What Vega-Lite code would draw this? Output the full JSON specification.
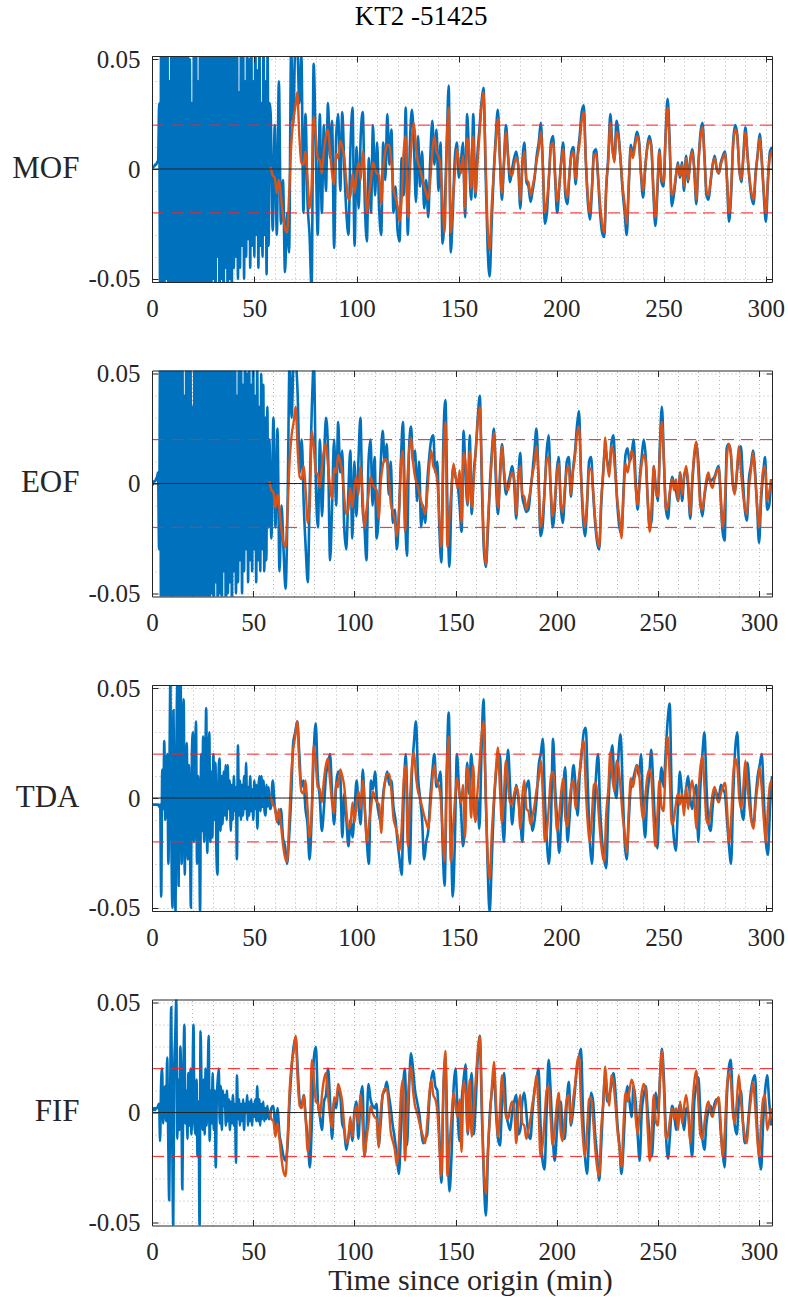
{
"$schema":"https://vega.github.io/schema/vega-lite/v6.json",
"padding":{"left":11,"top":3,"right":5,"bottom":5},
"bounds":"flush",
"spacing":88.5,
"title":{"text":"KT2 -51425","font":"Liberation Serif","fontSize":27,"fontWeight":"normal","color":"#000000","anchor":"middle","dx":23,"offset":16},
"config":{
"font":"Liberation Serif",
"view":{"stroke":null},
"axis":{"labelFont":"Liberation Serif","labelFontSize":25,"labelColor":"#262626","titleFont":"Liberation Serif","titleFontSize":31,"titleFontWeight":"normal","titleColor":"#262626","domainColor":"#262626","tickColor":"#262626","domainWidth":1,"tickWidth":1,"gridColor":"#b4b4b4","gridDash":[1,3],"gridWidth":1,"labelFlush":false,"labelOverlap":false}
},
"datasets":{"w":[
{"t":0,"a":0,"c":-0.001,"e":-0.003,"g":0.001},
{"t":0.5,"a":0.001,"c":0,"e":-0.003,"g":0.001},
{"t":1,"a":0.001,"c":0.001,"e":-0.003,"g":0.002},
{"t":1.5,"a":0.002,"c":0.001,"e":-0.003,"g":0.001},
{"t":2,"a":0.002,"c":0.002,"e":-0.003,"g":0.002},
{"t":2.5,"a":0.003,"c":0.003,"e":-0.003,"g":0.002},
{"t":3,"a":0.004,"c":0.005,"e":-0.003,"g":0.003},
{"t":3.5,"a":0.03,"c":-0.03,"e":-0.004,"g":0.004},
{"t":4,"a":-0.06,"c":0.06,"e":-0.003,"g":-0.013},
{"t":4.5,"a":0.07,"c":-0.07,"e":-0.045,"g":0.013},
{"t":5,"a":-0.07,"c":0.08,"e":0.013,"g":0.02},
{"t":5.5,"a":0.06,"c":-0.06,"e":-0.005,"g":-0.005},
{"t":6,"a":-0.08,"c":0.07,"e":0.026,"g":0.008},
{"t":6.5,"a":0.07,"c":-0.08,"e":-0.01,"g":0.012},
{"t":7,"a":-0.05,"c":0.06,"e":0.015,"g":-0.004},
{"t":7.5,"a":0.08,"c":-0.07,"e":0.02,"g":0.025},
{"t":8,"a":-0.07,"c":0.08,"e":-0.03,"g":-0.01},
{"t":8.5,"a":0.04,"c":-0.06,"e":0.01,"g":-0.04},
{"t":9,"a":-0.08,"c":0.07,"e":0.055,"g":0.01},
{"t":9.5,"a":0.07,"c":-0.08,"e":-0.02,"g":0.048},
{"t":10,"a":-0.06,"c":0.06,"e":-0.05,"g":-0.01},
{"t":10.5,"a":0.08,"c":-0.07,"e":0.04,"g":-0.052},
{"t":11,"a":-0.07,"c":0.08,"e":-0.01,"g":0.02},
{"t":11.5,"a":0.06,"c":-0.06,"e":-0.052,"g":0.035},
{"t":12,"a":-0.08,"c":0.07,"e":0.03,"g":0.052},
{"t":12.5,"a":0.07,"c":-0.08,"e":0.055,"g":-0.012},
{"t":13,"a":-0.07,"c":0.06,"e":-0.04,"g":0.015},
{"t":13.5,"a":0.08,"c":-0.07,"e":0.02,"g":-0.008},
{"t":14,"a":-0.06,"c":0.08,"e":0.055,"g":0.03},
{"t":14.5,"a":0.07,"c":-0.06,"e":-0.03,"g":0.01},
{"t":15,"a":-0.08,"c":0.07,"e":0.01,"g":-0.035},
{"t":15.5,"a":0.06,"c":-0.08,"e":0.045,"g":0.015},
{"t":16,"a":-0.07,"c":0.04,"e":-0.035,"g":0.04},
{"t":16.5,"a":0.08,"c":-0.07,"e":0.01,"g":-0.005},
{"t":17,"a":-0.06,"c":0.08,"e":0.025,"g":0.01},
{"t":17.5,"a":0.07,"c":-0.06,"e":-0.028,"g":-0.012},
{"t":18,"a":-0.08,"c":0.07,"e":0.015,"g":0.018},
{"t":18.5,"a":0.05,"c":-0.08,"e":-0.01,"g":-0.006},
{"t":19,"a":-0.07,"c":0.06,"e":-0.05,"g":0.02},
{"t":19.5,"a":0.03,"c":-0.07,"e":0.02,"g":-0.01},
{"t":20,"a":-0.08,"c":0.035,"e":0.03,"g":0.012},
{"t":20.5,"a":0.07,"c":-0.08,"e":-0.02,"g":0.04},
{"t":21,"a":-0.06,"c":0.07,"e":0.012,"g":-0.005},
{"t":21.5,"a":0.08,"c":-0.06,"e":0.035,"g":-0.01},
{"t":22,"a":-0.07,"c":0.08,"e":-0.03,"g":0.015},
{"t":22.5,"a":0.04,"c":-0.07,"e":0.01,"g":-0.02},
{"t":23,"a":-0.08,"c":0.06,"e":-0.01,"g":0.005},
{"t":23.5,"a":0.07,"c":-0.08,"e":-0.052,"g":-0.052},
{"t":24,"a":-0.06,"c":0.07,"e":0.02,"g":0.037},
{"t":24.5,"a":0.06,"c":-0.06,"e":-0.015,"g":0.01},
{"t":25,"a":-0.07,"c":0.08,"e":0.028,"g":-0.008},
{"t":25.5,"a":0.08,"c":-0.07,"e":-0.02,"g":0.015},
{"t":26,"a":-0.06,"c":0.06,"e":0.01,"g":-0.01},
{"t":26.5,"a":0.07,"c":-0.08,"e":0.041,"g":0.02},
{"t":27,"a":-0.08,"c":0.07,"e":-0.025,"g":-0.006},
{"t":27.5,"a":0.06,"c":-0.06,"e":0.005,"g":0.012},
{"t":28,"a":-0.07,"c":0.08,"e":0.03,"g":0.035},
{"t":28.5,"a":0.08,"c":-0.07,"e":-0.02,"g":-0.013},
{"t":29,"a":-0.06,"c":0.06,"e":0.012,"g":0.01},
{"t":29.5,"a":0.07,"c":-0.05,"e":-0.018,"g":-0.005},
{"t":30,"a":-0.05,"c":0.07,"e":0.02,"g":0.018},
{"t":30.5,"a":0.08,"c":-0.08,"e":-0.01,"g":-0.008},
{"t":31,"a":-0.07,"c":0.06,"e":0.016,"g":0.01},
{"t":31.5,"a":0.06,"c":-0.045,"e":-0.025,"g":-0.025},
{"t":32,"a":-0.04,"c":0.08,"e":-0.035,"g":0.005},
{"t":32.5,"a":0.07,"c":-0.07,"e":0.01,"g":0.015},
{"t":33,"a":-0.08,"c":0.06,"e":0.018,"g":0.02},
{"t":33.5,"a":0.06,"c":-0.05,"e":-0.015,"g":-0.005},
{"t":34,"a":-0.05,"c":0.07,"e":0.01,"g":0.012},
{"t":34.5,"a":0.07,"c":-0.06,"e":-0.012,"g":-0.008},
{"t":35,"a":-0.07,"c":0.08,"e":0.012,"g":0.01},
{"t":35.5,"a":0.08,"c":-0.04,"e":-0.008,"g":0.003},
{"t":36,"a":-0.045,"c":0.06,"e":0.015,"g":0.008},
{"t":36.5,"a":0.06,"c":-0.07,"e":-0.01,"g":-0.006},
{"t":37,"a":-0.07,"c":0.07,"e":0.015,"g":0.01},
{"t":37.5,"a":0.07,"c":-0.05,"e":-0.005,"g":-0.004},
{"t":38,"a":-0.05,"c":0.06,"e":0.008,"g":0.006},
{"t":38.5,"a":0.06,"c":-0.045,"e":-0.015,"g":-0.008},
{"t":39,"a":-0.06,"c":0.08,"e":0.006,"g":0.005},
{"t":39.5,"a":0.08,"c":-0.06,"e":-0.01,"g":-0.005},
{"t":40,"a":-0.045,"c":0.06,"e":0.01,"g":0.008},
{"t":40.5,"a":0.06,"c":-0.04,"e":-0.006,"g":-0.006},
{"t":41,"a":-0.04,"c":0.07,"e":0.005,"g":0.004},
{"t":41.5,"a":0.07,"c":-0.05,"e":-0.028,"g":-0.023},
{"t":42,"a":-0.05,"c":0.04,"e":0.024,"g":0.017},
{"t":42.5,"a":0.035,"c":-0.045,"e":-0.008,"g":-0.003},
{"t":43,"a":-0.045,"c":0.07,"e":0.008,"g":0.006},
{"t":43.5,"a":0.06,"c":-0.035,"e":-0.01,"g":-0.006},
{"t":44,"a":-0.035,"c":0.06,"e":0.006,"g":0.004},
{"t":44.5,"a":0.07,"c":-0.05,"e":-0.008,"g":-0.004},
{"t":45,"a":-0.05,"c":0.045,"e":0.01,"g":0.006},
{"t":45.5,"a":0.04,"c":-0.04,"e":-0.005,"g":-0.008},
{"t":46,"a":-0.04,"c":0.07,"e":0.016,"g":0.004},
{"t":46.5,"a":0.06,"c":-0.03,"e":-0.01,"g":0},
{"t":47,"a":-0.032,"c":0.05,"e":0.005,"g":0.008},
{"t":47.5,"a":0.05,"c":-0.045,"e":-0.008,"g":-0.006},
{"t":48,"a":-0.045,"c":0.065,"e":0.01,"g":0.005},
{"t":48.5,"a":0.07,"c":-0.035,"e":-0.006,"g":-0.004},
{"t":49,"a":-0.035,"c":0.045,"e":0.004,"g":0.006},
{"t":49.5,"a":0.04,"c":-0.04,"e":-0.01,"g":-0.006},
{"t":50,"a":-0.04,"c":0.06,"e":0.008,"g":0.004},
{"t":50.5,"a":0.06,"c":-0.03,"e":-0.005,"g":-0.002},
{"t":51,"a":-0.03,"c":0.04,"e":0.006,"g":0.006},
{"t":51.5,"a":0.045,"c":-0.045,"e":-0.014,"g":-0.004},
{"t":52,"a":-0.045,"c":0.055,"e":0.004,"g":0.012},
{"t":52.5,"a":0.06,"c":-0.035,"e":0.01,"g":-0.004},
{"t":53,"a":-0.035,"c":0.035,"e":-0.006,"g":0.006},
{"t":53.5,"a":0.03,"c":-0.04,"e":0.01,"g":-0.006},
{"t":54,"a":-0.04,"c":0.05,"e":-0.004,"g":0.004},
{"t":54.5,"a":0.06,"c":-0.03,"e":0.008,"g":-0.003},
{"t":55,"a":-0.03,"c":0.045,"e":-0.006,"g":0.005},
{"t":55.5,"a":0.04,"c":-0.04,"e":-0.008,"g":-0.004},
{"t":56,"a":-0.048,"c":0.03,"e":0.006,"g":0.002},
{"t":56.5,"a":0.055,"c":-0.035,"e":-0.004,"g":-0.003},
{"t":57,"a":-0.035,"c":0.035,"e":0.005,"g":0.003},
{"t":57.5,"a":0.03,"c":-0.02,"e":-0.005,"g":-0.002},
{"t":58,"a":0.025,"o":0.001,"c":0.02,"e":-0.005,"g":-0.003},
{"t":59,"a":-0.028,"o":-0.003,"c":-0.025,"e":0.008,"g":0.002},
{"t":60,"a":0.02,"o":-0.004,"c":0.03,"e":-0.004,"g":0.003},
{"t":61,"a":-0.03,"o":-0.011,"c":-0.02,"e":-0.008,"g":-0.008},
{"t":62,"a":0.04,"o":-0.005,"c":0.025,"e":-0.012,"g":0.002},
{"t":63,"a":-0.025,"o":-0.012,"c":-0.04,"e":-0.005,"g":-0.01},
{"t":64,"a":-0.005,"o":-0.021,"c":-0.01,"e":-0.018,"g":-0.015},
{"t":65,"a":-0.047,"o":-0.027,"c":-0.03,"e":-0.022,"g":-0.02},
{"t":66,"a":-0.02,"o":-0.029,"c":-0.048,"e":-0.03,"g":-0.022},
{"t":67,"a":-0.038,"o":-0.012,"c":-0.01,"e":-0.018,"g":-0.015},
{"t":68,"a":0.055,"o":0.01,"c":0.055,"e":0,"g":0.005},
{"t":69,"a":0.02,"o":0.022,"c":0.03,"e":0.025,"g":0.02},
{"t":70,"a":0.055,"o":0.028,"c":0.055,"e":0.03,"g":0.03},
{"t":71,"a":0.055,"o":0.035,"c":0.055,"e":0.035,"g":0.034},
{"t":72,"a":0.03,"o":0.015,"c":0.04,"e":0.02,"g":0.02},
{"t":73,"a":0.052,"o":0.003,"c":0.005,"e":0.005,"g":0.005},
{"t":74,"a":-0.02,"o":0.002,"c":0.02,"e":0.008,"g":0.003},
{"t":75,"a":0.025,"o":0.008,"c":-0.01,"e":-0.005,"g":0.008},
{"t":76,"a":-0.015,"o":-0.004,"c":-0.03,"e":-0.012,"g":-0.003},
{"t":77,"a":-0.03,"o":-0.018,"c":-0.045,"e":-0.028,"g":-0.012},
{"t":78,"a":-0.055,"o":-0.008,"c":0,"e":-0.01,"g":-0.025},
{"t":79,"a":0.048,"o":0.024,"c":0.035,"e":0.02,"g":-0.005},
{"t":80,"a":0.01,"o":0.016,"c":0.055,"e":0.034,"g":0.025},
{"t":81,"a":-0.03,"o":0.005,"c":0,"e":0.01,"g":0.03},
{"t":82,"a":0.025,"o":0.004,"c":-0.02,"e":0,"g":0.005},
{"t":83,"a":-0.02,"o":-0.002,"c":0.02,"e":-0.015,"g":-0.002},
{"t":84,"a":0.02,"o":0.008,"c":-0.015,"e":-0.005,"g":-0.008},
{"t":85,"a":-0.01,"o":0.015,"c":0.01,"e":0.01,"g":0.005},
{"t":86,"a":0.03,"o":0.018,"c":0.03,"e":0.015,"g":0.008},
{"t":87,"a":0.005,"o":0.008,"c":0.015,"e":0.02,"g":0.02},
{"t":88,"a":0.022,"o":-0.002,"c":-0.035,"e":0.002,"g":0.005},
{"t":89,"a":-0.036,"o":-0.007,"c":-0.01,"e":-0.012,"g":-0.012},
{"t":90,"a":0.015,"o":0.007,"c":0.02,"e":0.006,"g":0.005},
{"t":91,"a":0.025,"o":0.005,"c":-0.01,"e":0.012,"g":0.002},
{"t":92,"a":-0.01,"o":0.013,"c":0.028,"e":0.01,"g":0.01},
{"t":93,"a":0.026,"o":0.01,"c":0.005,"e":-0.018,"g":0.008},
{"t":94,"a":0,"o":0.005,"c":0.015,"e":0.002,"g":-0.005},
{"t":95,"a":-0.02,"o":-0.006,"c":-0.02,"e":-0.01,"g":-0.008},
{"t":96,"a":-0.03,"o":-0.014,"c":-0.03,"e":-0.022,"g":-0.017},
{"t":97,"a":0.01,"o":-0.012,"c":-0.005,"e":-0.01,"g":-0.012},
{"t":98,"a":0.028,"o":-0.002,"c":0.015,"e":-0.018,"g":-0.005},
{"t":99,"a":-0.035,"o":-0.011,"c":-0.025,"e":-0.005,"g":-0.013},
{"t":100,"a":0.01,"o":-0.002,"c":0.01,"e":0.008,"g":0},
{"t":101,"a":-0.018,"o":0.003,"c":-0.015,"e":-0.004,"g":0.005},
{"t":102,"a":0.015,"o":-0.005,"c":0.01,"e":-0.012,"g":-0.012},
{"t":103,"a":0.026,"o":0.008,"c":0.03,"e":0.013,"g":0.006},
{"t":104,"a":-0.015,"o":-0.004,"c":-0.01,"e":-0.005,"g":0.012},
{"t":105,"a":-0.033,"o":-0.02,"c":-0.02,"e":-0.02,"g":-0.02},
{"t":106,"a":0.005,"o":-0.012,"c":-0.035,"e":-0.03,"g":-0.008},
{"t":107,"a":-0.02,"o":-0.005,"c":0.01,"e":0.008,"g":0.013},
{"t":108,"a":0.02,"o":0.003,"c":0.02,"e":0.004,"g":0.006},
{"t":109,"a":-0.012,"o":0,"c":-0.01,"e":0.012,"g":0.003},
{"t":110,"a":0.012,"o":-0.002,"c":0.012,"e":-0.002,"g":0.002},
{"t":111,"a":-0.018,"o":-0.003,"c":-0.025,"e":-0.008,"g":0.004},
{"t":112,"a":-0.03,"o":-0.016,"c":-0.015,"e":-0.012,"g":-0.015},
{"t":113,"a":0.012,"o":0,"c":0.008,"e":0.002,"g":-0.005},
{"t":114,"a":-0.005,"o":0.008,"c":0.024,"e":0.008,"g":0.008},
{"t":115,"a":0.025,"o":0.011,"c":0.01,"e":0.012,"g":0.01},
{"t":116,"a":0.002,"o":0.011,"c":0.018,"e":0.006,"g":0.014},
{"t":117,"a":0.018,"o":0.003,"c":-0.005,"e":0.008,"g":0.008},
{"t":118,"a":-0.02,"o":-0.009,"c":0.01,"e":-0.004,"g":0.002},
{"t":119,"a":-0.008,"o":-0.013,"c":-0.018,"e":-0.01,"g":-0.006},
{"t":120,"a":-0.028,"o":-0.017,"c":-0.012,"e":-0.02,"g":-0.012},
{"t":121,"a":-0.033,"o":-0.024,"c":-0.03,"e":-0.028,"g":-0.02},
{"t":122,"a":0.005,"o":-0.014,"c":-0.015,"e":-0.035,"g":-0.028},
{"t":123,"a":-0.012,"o":0.008,"c":0.01,"e":0,"g":-0.01},
{"t":124,"a":0.028,"o":0.015,"c":0.028,"e":0.02,"g":0.01},
{"t":125,"a":-0.03,"o":-0.022,"c":-0.01,"e":-0.01,"g":0.02},
{"t":126,"a":0.01,"o":-0.002,"c":-0.033,"e":-0.03,"g":-0.015},
{"t":127,"a":0.027,"o":0.014,"c":0.015,"e":0.01,"g":0.01},
{"t":128,"a":0.012,"o":0.021,"c":0.026,"e":0.025,"g":0.027},
{"t":129,"a":-0.015,"o":0.01,"c":0.01,"e":0.035,"g":0.02},
{"t":130,"a":0.015,"o":0.003,"c":0.015,"e":0.01,"g":0.01},
{"t":131,"a":-0.008,"o":0,"c":-0.008,"e":0,"g":0.005},
{"t":132,"a":0.008,"o":-0.004,"c":0.01,"e":-0.01,"g":0},
{"t":133,"a":-0.018,"o":-0.008,"c":-0.02,"e":-0.028,"g":-0.008},
{"t":134,"a":-0.005,"o":-0.011,"c":-0.01,"e":-0.02,"g":-0.014},
{"t":135,"a":-0.022,"o":-0.014,"c":-0.018,"e":-0.015,"g":-0.012},
{"t":136,"a":0.005,"o":-0.005,"c":0,"e":0,"g":-0.01},
{"t":137,"a":0.022,"o":0.008,"c":0.012,"e":0.012,"g":0.005},
{"t":138,"a":0.002,"o":0.015,"c":0.02,"e":0.02,"g":0.015},
{"t":139,"a":0.018,"o":0.008,"c":0.022,"e":0.005,"g":0.019},
{"t":140,"a":-0.01,"o":0.006,"c":0.005,"e":0.008,"g":0.012},
{"t":141,"a":0.012,"o":0.001,"c":0.01,"e":0.012,"g":0.01},
{"t":142,"a":-0.034,"o":-0.015,"c":-0.02,"e":-0.02,"g":-0.01},
{"t":143,"a":-0.02,"o":-0.029,"c":-0.036,"e":-0.04,"g":-0.032},
{"t":144,"a":0.01,"o":0.01,"c":0.02,"e":0.01,"g":0.01},
{"t":145,"a":0.038,"o":0.028,"c":0.038,"e":0.039,"g":0.025},
{"t":146,"a":-0.038,"o":-0.029,"c":-0.01,"e":-0.01,"g":-0.01},
{"t":147,"a":-0.02,"o":-0.015,"c":-0.038,"e":-0.045,"g":-0.036},
{"t":148,"a":0.005,"o":-0.002,"c":-0.005,"e":-0.02,"g":-0.02},
{"t":149,"a":0.012,"o":0.009,"c":0.008,"e":0.02,"g":0.01},
{"t":150,"a":-0.004,"o":0.003,"c":0.003,"e":0.005,"g":0.02},
{"t":151,"a":0.004,"o":-0.002,"c":0,"e":-0.005,"g":0},
{"t":152,"a":0.012,"o":0.006,"c":-0.01,"e":-0.022,"g":-0.013},
{"t":153,"a":-0.022,"o":-0.018,"c":-0.022,"e":-0.01,"g":0.005},
{"t":154,"a":0.025,"o":0.014,"c":0.024,"e":0.016,"g":0.015},
{"t":155,"a":0.004,"o":0.009,"c":0.002,"e":0.002,"g":0.022},
{"t":156,"a":-0.014,"o":-0.009,"c":-0.01,"e":0.02,"g":-0.01},
{"t":157,"a":0.025,"o":0.015,"c":0.022,"e":0.005,"g":0.005},
{"t":158,"a":-0.013,"o":-0.011,"c":-0.014,"e":-0.01,"g":0.018},
{"t":159,"a":0.006,"o":0.002,"c":0.005,"e":0,"g":-0.01},
{"t":160,"a":0.018,"o":0.015,"c":0.015,"e":-0.014,"g":0.005},
{"t":161,"a":0.03,"o":0.028,"c":0.03,"e":0.02,"g":0.025},
{"t":162,"a":0.037,"o":0.035,"c":0.04,"e":0.045,"g":0.035},
{"t":163,"a":0,"o":0.005,"c":0,"e":0.005,"g":0},
{"t":164,"a":-0.035,"o":-0.026,"c":-0.03,"e":-0.03,"g":-0.03},
{"t":165,"a":-0.049,"o":-0.037,"c":-0.038,"e":-0.052,"g":-0.047},
{"t":166,"a":-0.025,"o":-0.017,"c":-0.022,"e":-0.03,"g":-0.02},
{"t":167,"a":-0.002,"o":-0.002,"c":0,"e":-0.005,"g":0},
{"t":168,"a":0.015,"o":0.012,"c":0.015,"e":0.01,"g":0.01},
{"t":169,"a":0.027,"o":0.023,"c":0.025,"e":0.018,"g":0.018},
{"t":170,"a":0.006,"o":0.005,"c":0,"e":0.02,"g":0},
{"t":171,"a":-0.014,"o":-0.011,"c":-0.014,"e":-0.005,"g":-0.012},
{"t":172,"a":0.003,"o":0.002,"c":0.005,"e":-0.02,"g":-0.015},
{"t":173,"a":0.02,"o":0.017,"c":0.018,"e":0.005,"g":0.005},
{"t":174,"a":0.006,"o":0.006,"c":0.004,"e":0.022,"g":0.018},
{"t":175,"a":-0.006,"o":-0.002,"c":-0.005,"e":0.005,"g":0},
{"t":176,"a":0,"o":-0.003,"c":0,"e":-0.012,"g":-0.005},
{"t":177,"a":0.005,"o":0.002,"c":0.004,"e":-0.002,"g":-0.008},
{"t":178,"a":0.008,"o":0.005,"c":0.008,"e":0.006,"g":0},
{"t":179,"a":0.001,"o":0.002,"c":0,"e":0,"g":0.005},
{"t":180,"a":-0.018,"o":-0.014,"c":-0.016,"e":-0.01,"g":0.008},
{"t":181,"a":0.003,"o":0.001,"c":0.002,"e":-0.02,"g":-0.01},
{"t":182,"a":0.012,"o":0.008,"c":0.014,"e":0,"g":-0.008},
{"t":183,"a":-0.006,"o":-0.005,"c":-0.006,"e":0.005,"g":0.005},
{"t":184,"a":-0.008,"o":-0.006,"c":-0.01,"e":0.008,"g":0.009},
{"t":185,"a":-0.015,"o":-0.012,"c":-0.013,"e":-0.005,"g":0},
{"t":186,"a":-0.01,"o":-0.008,"c":-0.012,"e":-0.015,"g":-0.01},
{"t":187,"a":-0.004,"o":-0.003,"c":-0.004,"e":-0.01,"g":-0.012},
{"t":188,"a":0.006,"o":0.004,"c":0.005,"e":0,"g":0},
{"t":189,"a":0.012,"o":0.009,"c":0.015,"e":0.015,"g":0.01},
{"t":190,"a":0.021,"o":0.017,"c":0.025,"e":0.02,"g":0.015},
{"t":191,"a":0.002,"o":0.002,"c":0.004,"e":0.027,"g":0.02},
{"t":192,"a":-0.025,"o":-0.02,"c":-0.024,"e":0,"g":-0.005},
{"t":193,"a":-0.02,"o":-0.015,"c":-0.02,"e":-0.02,"g":-0.022},
{"t":194,"a":-0.004,"o":-0.003,"c":-0.004,"e":-0.03,"g":-0.026},
{"t":195,"a":0.012,"o":0.01,"c":0.014,"e":-0.01,"g":0},
{"t":196,"a":0.015,"o":0.012,"c":0.022,"e":0.027,"g":0.024},
{"t":197,"a":-0.004,"o":-0.002,"c":-0.002,"e":0.005,"g":0.01},
{"t":198,"a":-0.02,"o":-0.015,"c":-0.02,"e":-0.01,"g":-0.01},
{"t":199,"a":-0.009,"o":-0.008,"c":-0.012,"e":-0.025,"g":-0.022},
{"t":200,"a":0.004,"o":0.003,"c":0.005,"e":-0.01,"g":-0.01},
{"t":201,"a":0.012,"o":0.009,"c":0.012,"e":0.005,"g":0.004},
{"t":202,"a":-0.012,"o":-0.009,"c":-0.01,"e":0.014,"g":0.005},
{"t":203,"a":-0.016,"o":-0.013,"c":-0.018,"e":-0.02,"g":-0.01},
{"t":204,"a":-0.003,"o":-0.002,"c":-0.005,"e":-0.01,"g":-0.012},
{"t":205,"a":0.008,"o":0.006,"c":0.01,"e":0.005,"g":0.005},
{"t":206,"a":0.01,"o":0.008,"c":0.012,"e":0.015,"g":0.014},
{"t":207,"a":-0.007,"o":-0.005,"c":-0.006,"e":0.005,"g":-0.006},
{"t":208,"a":0.006,"o":0.005,"c":0.006,"e":-0.008,"g":0},
{"t":209,"a":0.015,"o":0.012,"c":0.014,"e":0.01,"g":0.01},
{"t":210,"a":0.026,"o":0.022,"c":0.026,"e":0.02,"g":0.02},
{"t":211,"a":0.029,"o":0.026,"c":0.033,"e":0.03,"g":0.025},
{"t":212,"a":0.004,"o":0.004,"c":0.005,"e":0.032,"g":0.029},
{"t":213,"a":-0.015,"o":-0.012,"c":-0.016,"e":0.005,"g":0},
{"t":214,"a":-0.023,"o":-0.02,"c":-0.024,"e":-0.02,"g":-0.02},
{"t":215,"a":-0.01,"o":-0.008,"c":-0.01,"e":-0.03,"g":-0.028},
{"t":216,"a":0.008,"o":0.006,"c":0.01,"e":-0.01,"g":-0.01},
{"t":217,"a":0.009,"o":0.007,"c":0.012,"e":0.01,"g":0.009},
{"t":218,"a":-0.004,"o":-0.003,"c":-0.004,"e":0.02,"g":0.005},
{"t":219,"a":-0.02,"o":-0.016,"c":-0.018,"e":-0.005,"g":-0.01},
{"t":220,"a":-0.029,"o":-0.025,"c":-0.027,"e":-0.02,"g":-0.02},
{"t":221,"a":-0.031,"o":-0.029,"c":-0.03,"e":-0.028,"g":-0.031},
{"t":222,"a":-0.009,"o":-0.007,"c":-0.01,"e":-0.032,"g":-0.015},
{"t":223,"a":0.006,"o":0.004,"c":0.006,"e":-0.005,"g":0.005},
{"t":224,"a":0.025,"o":0.021,"c":0.016,"e":0.015,"g":0.017},
{"t":225,"a":0.01,"o":0.009,"c":0.01,"e":0.024,"g":0.005},
{"t":226,"a":0.004,"o":0.003,"c":0.006,"e":0.005,"g":0.008},
{"t":227,"a":0.022,"o":0.017,"c":0.018,"e":0,"g":0.012},
{"t":228,"a":0.016,"o":0.014,"c":0.022,"e":0.02,"g":0.018},
{"t":229,"a":0.004,"o":0.004,"c":0.006,"e":0.029,"g":0.01},
{"t":230,"a":-0.01,"o":-0.008,"c":-0.01,"e":0.005,"g":-0.005},
{"t":231,"a":-0.02,"o":-0.016,"c":-0.02,"e":-0.02,"g":-0.015},
{"t":232,"a":-0.03,"o":-0.025,"c":-0.023,"e":-0.028,"g":-0.028},
{"t":233,"a":-0.008,"o":-0.006,"c":-0.004,"e":-0.01,"g":-0.015},
{"t":234,"a":0.011,"o":0.009,"c":0.013,"e":0.005,"g":0.005},
{"t":235,"a":0.006,"o":0.005,"c":0.016,"e":0.008,"g":0.012},
{"t":236,"a":0.012,"o":0.01,"c":0.01,"e":0.012,"g":0.005},
{"t":237,"a":0.017,"o":0.015,"c":0.013,"e":0.015,"g":-0.002},
{"t":238,"a":0.013,"o":0.012,"c":0.02,"e":0.01,"g":0.012},
{"t":239,"a":-0.003,"o":-0.002,"c":0.002,"e":0.02,"g":0.005},
{"t":240,"a":-0.013,"o":-0.01,"c":-0.012,"e":-0.005,"g":-0.01},
{"t":241,"a":0,"o":0,"c":0.002,"e":-0.018,"g":-0.022},
{"t":242,"a":0.01,"o":0.009,"c":0.012,"e":0,"g":0},
{"t":243,"a":0.015,"o":0.013,"c":0.02,"e":0.01,"g":0.008},
{"t":244,"a":0.011,"o":0.01,"c":0.012,"e":0.022,"g":0.012},
{"t":245,"a":-0.01,"o":-0.008,"c":-0.008,"e":0.005,"g":0},
{"t":246,"a":-0.026,"o":-0.022,"c":-0.02,"e":-0.015,"g":-0.012},
{"t":247,"a":-0.01,"o":-0.008,"c":-0.016,"e":-0.023,"g":-0.02},
{"t":248,"a":0.009,"o":0.008,"c":0.008,"e":0,"g":-0.005},
{"t":249,"a":-0.006,"o":-0.004,"c":-0.002,"e":0.014,"g":0.009},
{"t":250,"a":-0.008,"o":-0.006,"c":-0.008,"e":0.005,"g":0},
{"t":251,"a":0.016,"o":0.014,"c":0.018,"e":0.02,"g":0.015},
{"t":252,"a":0.032,"o":0.028,"c":0.035,"e":0.035,"g":0.029},
{"t":253,"a":0.012,"o":0.01,"c":0.01,"e":0.043,"g":0.015},
{"t":254,"a":-0.017,"o":-0.012,"c":-0.012,"e":0,"g":-0.01},
{"t":255,"a":-0.012,"o":-0.01,"c":-0.016,"e":-0.018,"g":-0.021},
{"t":256,"a":-0.004,"o":-0.003,"c":-0.004,"e":-0.024,"g":-0.01},
{"t":257,"a":0.003,"o":0.002,"c":0.003,"e":-0.005,"g":0.003},
{"t":258,"a":-0.004,"o":-0.003,"c":0,"e":0.012,"g":0},
{"t":259,"a":0.003,"o":0.002,"c":-0.004,"e":0.002,"g":-0.008},
{"t":260,"a":-0.01,"o":-0.008,"c":-0.008,"e":-0.005,"g":0},
{"t":261,"a":0.006,"o":0.005,"c":0.005,"e":0.004,"g":0.004},
{"t":262,"a":-0.006,"o":-0.005,"c":-0.008,"e":0.01,"g":-0.002},
{"t":263,"a":0.004,"o":0.003,"c":0.004,"e":0,"g":-0.008},
{"t":264,"a":0.009,"o":0.008,"c":0.006,"e":-0.005,"g":0.002},
{"t":265,"a":0,"o":0,"c":-0.002,"e":0.002,"g":0},
{"t":266,"a":-0.016,"o":-0.014,"c":-0.016,"e":0.006,"g":-0.012},
{"t":267,"a":0.002,"o":0.002,"c":0,"e":-0.02,"g":-0.02},
{"t":268,"a":0.016,"o":0.014,"c":0.012,"e":0.005,"g":0.005},
{"t":269,"a":0.021,"o":0.019,"c":0.018,"e":0.02,"g":0.012},
{"t":270,"a":0.006,"o":0.005,"c":0.01,"e":0.03,"g":0.016},
{"t":271,"a":-0.012,"o":-0.01,"c":-0.008,"e":0.005,"g":0},
{"t":272,"a":-0.014,"o":-0.012,"c":-0.015,"e":-0.012,"g":-0.012},
{"t":273,"a":-0.006,"o":-0.005,"c":-0.006,"e":-0.015,"g":-0.017},
{"t":274,"a":0.002,"o":0.002,"c":0,"e":-0.004,"g":-0.005},
{"t":275,"a":0.006,"o":0.005,"c":0.003,"e":0.004,"g":0.001},
{"t":276,"a":0,"o":0,"c":0.001,"e":0.002,"g":0.003},
{"t":277,"a":-0.002,"o":-0.002,"c":0.002,"e":0,"g":0},
{"t":278,"a":0.003,"o":0.002,"c":0.003,"e":0.006,"g":0.004},
{"t":279,"a":0.006,"o":0.005,"c":0.006,"e":0.004,"g":0.006},
{"t":280,"a":0.008,"o":0.007,"c":0.008,"e":0.002,"g":0.005},
{"t":281,"a":-0.005,"o":-0.004,"c":-0.006,"e":-0.01,"g":-0.008},
{"t":282,"a":-0.024,"o":-0.02,"c":-0.022,"e":-0.022,"g":-0.018},
{"t":283,"a":-0.012,"o":-0.01,"c":-0.026,"e":-0.03,"g":-0.025},
{"t":284,"a":0.012,"o":0.01,"c":0.016,"e":0,"g":0.005},
{"t":285,"a":0.02,"o":0.018,"c":0.018,"e":0.022,"g":0.02},
{"t":286,"a":0.016,"o":0.015,"c":0.014,"e":0.03,"g":0.024},
{"t":287,"a":0,"o":0,"c":0,"e":0.01,"g":0.005},
{"t":288,"a":-0.006,"o":-0.005,"c":-0.004,"e":-0.005,"g":-0.006},
{"t":289,"a":0.006,"o":0.005,"c":0.004,"e":-0.01,"g":-0.01},
{"t":290,"a":0.019,"o":0.017,"c":0.014,"e":0.005,"g":0.005},
{"t":291,"a":0.007,"o":0.006,"c":0.017,"e":0.016,"g":0.01},
{"t":292,"a":-0.005,"o":-0.004,"c":0.002,"e":0.005,"g":-0.004},
{"t":293,"a":-0.013,"o":-0.011,"c":-0.012,"e":-0.01,"g":-0.014},
{"t":294,"a":-0.016,"o":-0.014,"c":-0.017,"e":-0.012,"g":-0.01},
{"t":295,"a":-0.002,"o":-0.002,"c":0.002,"e":0,"g":0},
{"t":296,"a":0.007,"o":0.006,"c":0.008,"e":0.01,"g":0.01},
{"t":297,"a":0.016,"o":0.014,"c":0.015,"e":0.015,"g":0.015},
{"t":298,"a":0.004,"o":0.004,"c":0.006,"e":0.02,"g":0.017},
{"t":299,"a":-0.012,"o":-0.01,"c":-0.01,"e":0,"g":-0.005},
{"t":300,"a":-0.024,"o":-0.02,"c":-0.027,"e":-0.02,"g":-0.02},
{"t":301,"a":-0.006,"o":-0.005,"c":-0.008,"e":-0.026,"g":-0.026},
{"t":302,"a":0.008,"o":0.006,"c":0.004,"e":-0.005,"g":-0.005},
{"t":303,"a":0.01,"o":0.008,"c":0.012,"e":0.01,"g":0.01},
{"t":304,"o":-0.008,"c":-0.012,"g":0.017},
{"t":305,"o":-0.004,"c":-0.01,"g":0.005},
{"t":306,"o":0.002,"c":0.002,"g":-0.006}
]},
"vconcat":[
{"width":620,"height":226,"data":{"name":"w"},
"resolve":{"axis":{"x":"independent","y":"independent"}},
"layer":[
{"mark":{"type":"line","color":"#0072BD","strokeWidth":2.6,"clip":true,"interpolate":"monotone"},
"encoding":{
"x":{"field":"t","type":"quantitative","scale":{"domain":[0,303],"nice":false,"zero":false},"axis":{"orient":"bottom","values":[0,50,100,150,200,250,300],"title":null,"grid":false,"tickSize":-6,"labelPadding":20,"labelFont":"Liberation Serif","labelFontSize":25,"zindex":1}},
"y":{"field":"a","type":"quantitative","scale":{"domain":[-0.0515,0.0515],"nice":false,"zero":false},"axis":{"orient":"left","values":[-0.05,0,0.05],"labelExpr":"datum.value > 0 ? '0.05' : datum.value < 0 ? '-0.05' : '0'","labelFont":"Liberation Serif","labelFontSize":25,"title":"MOF","titleFont":"Liberation Serif","titleAngle":0,"titleAlign":"right","titleBaseline":"middle","titleX":-73,"titleY":112,"grid":false,"tickSize":-6,"labelPadding":18,"zindex":1}}}},
{"mark":{"type":"line","color":"#D95319","strokeWidth":2.4,"clip":true,"interpolate":"monotone"},
"encoding":{
"x":{"field":"t","type":"quantitative","scale":{"domain":[0,303],"nice":false,"zero":false},"axis":{"orient":"top","values":[10,20,30,40,50,60,70,80,90,100,110,120,130,140,150,160,170,180,190,200,210,220,230,240,250,260,270,280,290,300],"grid":true,"ticks":false,"labels":false,"domain":false,"title":null,"zindex":0}},
"y":{"field":"o","type":"quantitative","scale":{"domain":[-0.0515,0.0515],"nice":false,"zero":false},"axis":{"orient":"right","values":[-0.05,-0.04,-0.03,-0.02,-0.01,0,0.01,0.02,0.03,0.04,0.05],"grid":true,"ticks":false,"labels":false,"domain":false,"title":null,"zindex":0}}}},
{"data":{"values":[{"y":0.02},{"y":-0.02}]},"mark":{"type":"rule","color":"#FF2020","strokeDash":[12,7],"strokeWidth":1},
"encoding":{"y":{"field":"y","type":"quantitative","scale":{"domain":[-0.0515,0.0515],"nice":false,"zero":false},"axis":null}}},
{"data":{"values":[{"y":0}]},"mark":{"type":"rule","color":"#262626","strokeWidth":1},
"encoding":{
"y":{"field":"y","type":"quantitative","scale":{"domain":[-0.0515,0.0515],"nice":false,"zero":false},"axis":{"orient":"right","values":[-0.05,0,0.05],"tickSize":-6,"labels":false,"grid":false,"domain":true,"title":null,"zindex":1}},
"x":{"datum":0,"type":"quantitative","scale":{"domain":[0,303],"nice":false,"zero":false},"axis":{"orient":"top","values":[0,50,100,150,200,250,300],"tickSize":-6,"labels":false,"grid":false,"domain":true,"title":null,"zindex":1}},
"x2":{"datum":303}}}
]},
{"width":620,"height":226,"data":{"name":"w"},
"resolve":{"axis":{"x":"independent","y":"independent"}},
"layer":[
{"mark":{"type":"line","color":"#0072BD","strokeWidth":2.6,"clip":true,"interpolate":"monotone"},
"encoding":{
"x":{"field":"t","type":"quantitative","scale":{"domain":[0,306.4],"nice":false,"zero":false},"axis":{"orient":"bottom","values":[0,50,100,150,200,250,300],"title":null,"grid":false,"tickSize":-6,"labelPadding":20,"labelFont":"Liberation Serif","labelFontSize":25,"zindex":1}},
"y":{"field":"c","type":"quantitative","scale":{"domain":[-0.0515,0.0515],"nice":false,"zero":false},"axis":{"orient":"left","values":[-0.05,0,0.05],"labelExpr":"datum.value > 0 ? '0.05' : datum.value < 0 ? '-0.05' : '0'","labelFont":"Liberation Serif","labelFontSize":25,"title":"EOF","titleFont":"Liberation Serif","titleAngle":0,"titleAlign":"right","titleBaseline":"middle","titleX":-73,"titleY":112,"grid":false,"tickSize":-6,"labelPadding":18,"zindex":1}}}},
{"mark":{"type":"line","color":"#D95319","strokeWidth":2.4,"clip":true,"interpolate":"monotone"},
"encoding":{
"x":{"field":"t","type":"quantitative","scale":{"domain":[0,306.4],"nice":false,"zero":false},"axis":{"orient":"top","values":[10,20,30,40,50,60,70,80,90,100,110,120,130,140,150,160,170,180,190,200,210,220,230,240,250,260,270,280,290,300],"grid":true,"ticks":false,"labels":false,"domain":false,"title":null,"zindex":0}},
"y":{"field":"o","type":"quantitative","scale":{"domain":[-0.0515,0.0515],"nice":false,"zero":false},"axis":{"orient":"right","values":[-0.05,-0.04,-0.03,-0.02,-0.01,0,0.01,0.02,0.03,0.04,0.05],"grid":true,"ticks":false,"labels":false,"domain":false,"title":null,"zindex":0}}}},
{"data":{"values":[{"y":0.02},{"y":-0.02}]},"mark":{"type":"rule","color":"#FF2020","strokeDash":[12,7],"strokeWidth":1},
"encoding":{"y":{"field":"y","type":"quantitative","scale":{"domain":[-0.0515,0.0515],"nice":false,"zero":false},"axis":null}}},
{"data":{"values":[{"y":0}]},"mark":{"type":"rule","color":"#262626","strokeWidth":1},
"encoding":{
"y":{"field":"y","type":"quantitative","scale":{"domain":[-0.0515,0.0515],"nice":false,"zero":false},"axis":{"orient":"right","values":[-0.05,0,0.05],"tickSize":-6,"labels":false,"grid":false,"domain":true,"title":null,"zindex":1}},
"x":{"datum":0,"type":"quantitative","scale":{"domain":[0,306.4],"nice":false,"zero":false},"axis":{"orient":"top","values":[0,50,100,150,200,250,300],"tickSize":-6,"labels":false,"grid":false,"domain":true,"title":null,"zindex":1}},
"x2":{"datum":306.4}}}
]},
{"width":620,"height":226,"data":{"name":"w"},
"resolve":{"axis":{"x":"independent","y":"independent"}},
"layer":[
{"mark":{"type":"line","color":"#0072BD","strokeWidth":2.6,"clip":true,"interpolate":"monotone"},
"encoding":{
"x":{"field":"t","type":"quantitative","scale":{"domain":[0,303],"nice":false,"zero":false},"axis":{"orient":"bottom","values":[0,50,100,150,200,250,300],"title":null,"grid":false,"tickSize":-6,"labelPadding":20,"labelFont":"Liberation Serif","labelFontSize":25,"zindex":1}},
"y":{"field":"e","type":"quantitative","scale":{"domain":[-0.0515,0.0515],"nice":false,"zero":false},"axis":{"orient":"left","values":[-0.05,0,0.05],"labelExpr":"datum.value > 0 ? '0.05' : datum.value < 0 ? '-0.05' : '0'","labelFont":"Liberation Serif","labelFontSize":25,"title":"TDA","titleFont":"Liberation Serif","titleAngle":0,"titleAlign":"right","titleBaseline":"middle","titleX":-73,"titleY":112,"grid":false,"tickSize":-6,"labelPadding":18,"zindex":1}}}},
{"mark":{"type":"line","color":"#D95319","strokeWidth":2.4,"clip":true,"interpolate":"monotone"},
"encoding":{
"x":{"field":"t","type":"quantitative","scale":{"domain":[0,303],"nice":false,"zero":false},"axis":{"orient":"top","values":[10,20,30,40,50,60,70,80,90,100,110,120,130,140,150,160,170,180,190,200,210,220,230,240,250,260,270,280,290,300],"grid":true,"ticks":false,"labels":false,"domain":false,"title":null,"zindex":0}},
"y":{"field":"o","type":"quantitative","scale":{"domain":[-0.0515,0.0515],"nice":false,"zero":false},"axis":{"orient":"right","values":[-0.05,-0.04,-0.03,-0.02,-0.01,0,0.01,0.02,0.03,0.04,0.05],"grid":true,"ticks":false,"labels":false,"domain":false,"title":null,"zindex":0}}}},
{"data":{"values":[{"y":0.02},{"y":-0.02}]},"mark":{"type":"rule","color":"#FF2020","strokeDash":[12,7],"strokeWidth":1},
"encoding":{"y":{"field":"y","type":"quantitative","scale":{"domain":[-0.0515,0.0515],"nice":false,"zero":false},"axis":null}}},
{"data":{"values":[{"y":0}]},"mark":{"type":"rule","color":"#262626","strokeWidth":1},
"encoding":{
"y":{"field":"y","type":"quantitative","scale":{"domain":[-0.0515,0.0515],"nice":false,"zero":false},"axis":{"orient":"right","values":[-0.05,0,0.05],"tickSize":-6,"labels":false,"grid":false,"domain":true,"title":null,"zindex":1}},
"x":{"datum":0,"type":"quantitative","scale":{"domain":[0,303],"nice":false,"zero":false},"axis":{"orient":"top","values":[0,50,100,150,200,250,300],"tickSize":-6,"labels":false,"grid":false,"domain":true,"title":null,"zindex":1}},
"x2":{"datum":303}}}
]},
{"width":620,"height":226,"data":{"name":"w"},
"resolve":{"axis":{"x":"independent","y":"independent"}},
"layer":[
{"mark":{"type":"line","color":"#0072BD","strokeWidth":2.6,"clip":true,"interpolate":"monotone"},
"encoding":{
"x":{"field":"t","type":"quantitative","scale":{"domain":[0,306.4],"nice":false,"zero":false},"axis":{"orient":"bottom","values":[0,50,100,150,200,250,300],"title":"Time since origin (min)","titleFont":"Liberation Serif","titleFontSize":30,"titleX":318,"titleY":64,"titleBaseline":"alphabetic","grid":false,"tickSize":-6,"labelPadding":20,"labelFont":"Liberation Serif","labelFontSize":25,"zindex":1}},
"y":{"field":"g","type":"quantitative","scale":{"domain":[-0.0515,0.0515],"nice":false,"zero":false},"axis":{"orient":"left","values":[-0.05,0,0.05],"labelExpr":"datum.value > 0 ? '0.05' : datum.value < 0 ? '-0.05' : '0'","labelFont":"Liberation Serif","labelFontSize":25,"title":"FIF","titleFont":"Liberation Serif","titleAngle":0,"titleAlign":"right","titleBaseline":"middle","titleX":-73,"titleY":112,"grid":false,"tickSize":-6,"labelPadding":18,"zindex":1}}}},
{"mark":{"type":"line","color":"#D95319","strokeWidth":2.4,"clip":true,"interpolate":"monotone"},
"encoding":{
"x":{"field":"t","type":"quantitative","scale":{"domain":[0,306.4],"nice":false,"zero":false},"axis":{"orient":"top","values":[10,20,30,40,50,60,70,80,90,100,110,120,130,140,150,160,170,180,190,200,210,220,230,240,250,260,270,280,290,300],"grid":true,"ticks":false,"labels":false,"domain":false,"title":null,"zindex":0}},
"y":{"field":"o","type":"quantitative","scale":{"domain":[-0.0515,0.0515],"nice":false,"zero":false},"axis":{"orient":"right","values":[-0.05,-0.04,-0.03,-0.02,-0.01,0,0.01,0.02,0.03,0.04,0.05],"grid":true,"ticks":false,"labels":false,"domain":false,"title":null,"zindex":0}}}},
{"data":{"values":[{"y":0.02},{"y":-0.02}]},"mark":{"type":"rule","color":"#FF2020","strokeDash":[12,7],"strokeWidth":1},
"encoding":{"y":{"field":"y","type":"quantitative","scale":{"domain":[-0.0515,0.0515],"nice":false,"zero":false},"axis":null}}},
{"data":{"values":[{"y":0}]},"mark":{"type":"rule","color":"#262626","strokeWidth":1},
"encoding":{
"y":{"field":"y","type":"quantitative","scale":{"domain":[-0.0515,0.0515],"nice":false,"zero":false},"axis":{"orient":"right","values":[-0.05,0,0.05],"tickSize":-6,"labels":false,"grid":false,"domain":true,"title":null,"zindex":1}},
"x":{"datum":0,"type":"quantitative","scale":{"domain":[0,306.4],"nice":false,"zero":false},"axis":{"orient":"top","values":[0,50,100,150,200,250,300],"tickSize":-6,"labels":false,"grid":false,"domain":true,"title":null,"zindex":1}},
"x2":{"datum":306.4}}}
]}
]
}
